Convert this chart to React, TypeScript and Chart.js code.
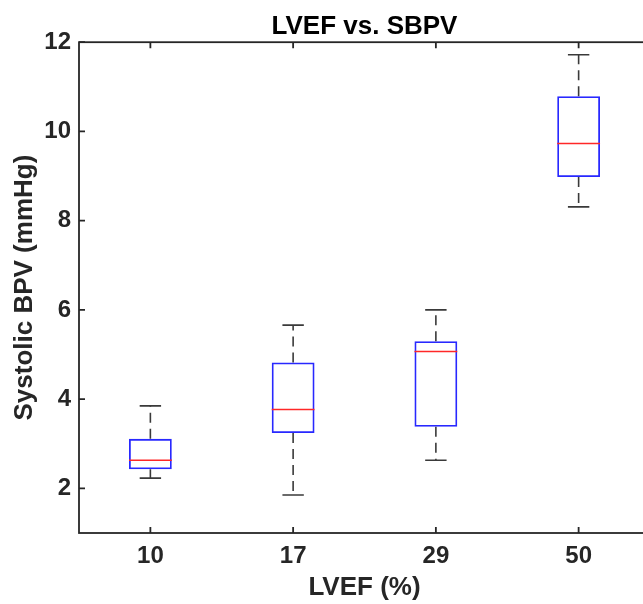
import React, { useEffect, useRef } from 'react';
import { Chart, registerables } from 'chart.js';

Chart.register(...registerables);

// ---- data ----
const categories = ['10', '17', '29', '50'];
const whiskerLow = [2.23, 1.85, 2.63, 8.31];
const q1 = [2.43, 3.24, 3.38, 8.98];
const median = [2.63, 3.77, 5.07, 9.73];
const q3 = [3.11, 4.82, 5.3, 10.79];
const whiskerHigh = [3.85, 5.66, 6.0, 11.72];
const yTicks = [2, 4, 6, 8, 10, 12];

const FONT = "'Liberation Sans', Arial, Helvetica, sans-serif";
const AXIS_COLOR = '#262626';

const boxPlugin = {
  id: 'boxWhiskers',
  afterDatasetsDraw(chart: any) {
    const { ctx, scales } = chart;
    const xs = scales.x;
    const ys = scales.y;
    const meta = chart.getDatasetMeta(0);
    ctx.save();
    categories.forEach((_, i) => {
      const bar: any = meta.data[i];
      const cx = xs.getPixelForValue(i);
      const half = bar.width / 2;
      const capHalf = half / 2;
      const yLo = ys.getPixelForValue(whiskerLow[i]);
      const yQ1 = ys.getPixelForValue(q1[i]);
      const yMed = ys.getPixelForValue(median[i]);
      const yQ3 = ys.getPixelForValue(q3[i]);
      const yHi = ys.getPixelForValue(whiskerHigh[i]);

      // dashed whiskers
      ctx.strokeStyle = '#3a3a3a';
      ctx.lineWidth = 1.6;
      ctx.setLineDash([10, 6]);
      ctx.beginPath();
      ctx.moveTo(cx, yQ3);
      ctx.lineTo(cx, yHi);
      ctx.moveTo(cx, yQ1);
      ctx.lineTo(cx, yLo);
      ctx.stroke();

      // caps
      ctx.setLineDash([]);
      ctx.beginPath();
      ctx.moveTo(cx - capHalf, yHi);
      ctx.lineTo(cx + capHalf, yHi);
      ctx.moveTo(cx - capHalf, yLo);
      ctx.lineTo(cx + capHalf, yLo);
      ctx.stroke();

      // median
      ctx.strokeStyle = 'rgb(255,40,40)';
      ctx.lineWidth = 1.5;
      ctx.beginPath();
      ctx.moveTo(cx - half, yMed);
      ctx.lineTo(cx + half, yMed);
      ctx.stroke();
    });
    ctx.restore();
  },
  afterDraw(chart: any) {
    const { ctx, chartArea, scales } = chart;
    const { left, right, top, bottom } = chartArea;
    const xs = scales.x;
    const ys = scales.y;
    const tick = 6;
    ctx.save();
    ctx.strokeStyle = AXIS_COLOR;
    ctx.lineWidth = 1.8;
    ctx.setLineDash([]);
    ctx.strokeRect(left, top, right - left, bottom - top);
    ctx.beginPath();
    yTicks.forEach((v) => {
      const y = ys.getPixelForValue(v);
      ctx.moveTo(left, y);
      ctx.lineTo(left + tick, y);
      ctx.moveTo(right, y);
      ctx.lineTo(right - tick, y);
    });
    categories.forEach((_, i) => {
      const x = xs.getPixelForValue(i);
      ctx.moveTo(x, bottom);
      ctx.lineTo(x, bottom - tick);
      ctx.moveTo(x, top);
      ctx.lineTo(x, top + tick);
    });
    ctx.stroke();
    ctx.restore();
  },
};

export default function App() {
  const canvasRef = useRef<HTMLCanvasElement | null>(null);

  useEffect(() => {
    if (!canvasRef.current) return;
    const chart = new Chart(canvasRef.current, {
      type: 'bar',
      data: {
        labels: categories,
        datasets: [
          {
            data: categories.map((_, i) => [q1[i], q3[i]]) as any,
            backgroundColor: 'rgba(0,0,0,0)',
            borderColor: 'rgb(40,40,255)',
            borderWidth: 1.8,
            borderSkipped: false,
            barPercentage: 0.3,
            categoryPercentage: 1,
          },
        ],
      },
      options: {
        responsive: false,
        animation: false,
        devicePixelRatio: 1,
        layout: { padding: { left: 0, right: 10, top: 0, bottom: 0 } },
        plugins: {
          legend: { display: false },
          tooltip: { enabled: false },
          title: {
            display: true,
            text: 'LVEF vs. SBPV',
            color: '#000',
            fullSize: false,
            font: { family: FONT, size: 26, weight: 'bold', lineHeight: 1.2 },
            padding: { top: 11, bottom: 0 },
          },
        },
        scales: {
          x: {
            type: 'category',
            offset: true,
            grid: { display: false, drawTicks: false },
            border: { display: false },
            ticks: {
              color: AXIS_COLOR,
              padding: 9,
              maxRotation: 0,
              font: { family: FONT, size: 24, weight: 'bold', lineHeight: 1.2 },
            },
            title: {
              display: true,
              text: 'LVEF (%)',
              color: AXIS_COLOR,
              font: { family: FONT, size: 26, weight: 'bold', lineHeight: 1.2 },
              padding: { top: 0, bottom: 1 },
            },
            afterFit: (scale: any) => {
              scale.height = 71;
            },
          },
          y: {
            type: 'linear',
            min: 1,
            max: 12,
            grid: { display: false, drawTicks: false },
            border: { display: false },
            afterBuildTicks: (scale: any) => {
              scale.ticks = yTicks.map((v) => ({ value: v }));
            },
            ticks: {
              color: AXIS_COLOR,
              padding: 8,
              font: { family: FONT, size: 24, weight: 'bold', lineHeight: 1.2 },
            },
            title: {
              display: true,
              text: 'Systolic BPV (mmHg)',
              color: AXIS_COLOR,
              font: { family: FONT, size: 26, weight: 'bold', lineHeight: 1.2 },
              padding: { top: 9, bottom: 0 },
            },
            afterFit: (scale: any) => {
              scale.width = 79;
            },
          },
        },
      },
      plugins: [boxPlugin],
    });
    return () => chart.destroy();
  }, []);

  return (
    <div
      style={{
        position: 'fixed',
        left: 0,
        top: 0,
        width: 643,
        height: 604,
        overflow: 'hidden',
        background: '#fff',
      }}
    >
      <canvas ref={canvasRef} width={660} height={604} style={{ display: 'block' }} />
    </div>
  );
}
